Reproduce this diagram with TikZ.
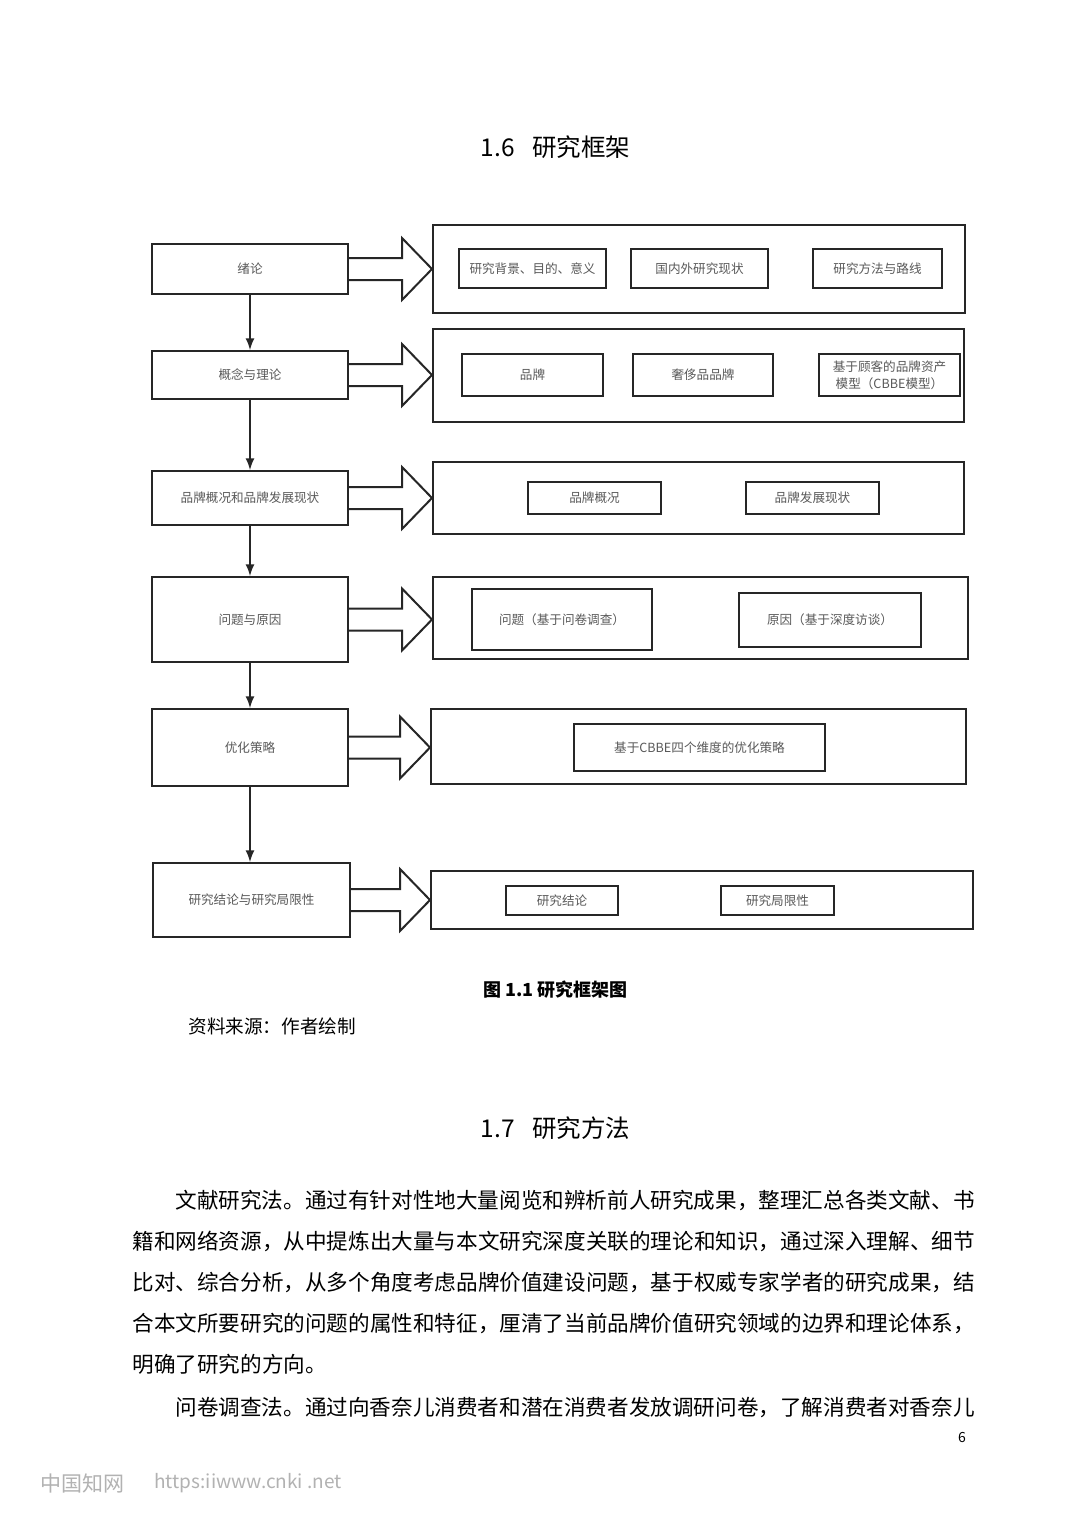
\documentclass[tikz,border=0pt]{standalone}
\usepackage{fontspec}
\setmainfont{Noto Sans CJK SC}
\usepackage{tikz}
\usetikzlibrary{calc,arrows}
\tikzstyle{chapter} = [rectangle, draw=black!85, line width=1pt, inner sep=0pt, text=black!65, font=\fontsize{6.3}{8.5}\selectfont, align=center]
\tikzstyle{group} = [rectangle, draw=black!85, line width=1pt, inner sep=0pt]
\tikzstyle{item} = [rectangle, draw=black!85, line width=1pt, inner sep=0pt, text=black!65, font=\fontsize{6.3}{8.5}\selectfont, align=center]
\tikzstyle{arrow} = [line width=1pt, draw=black!85, ->, >=latex]
\tikzstyle{fat} = [line width=1pt, draw=black!85, fill=white]
\tikzstyle{body} = [anchor=west, inner sep=0pt, font=\fontsize{10.8}{12}\selectfont]
\tikzstyle{heading} = [inner sep=0pt, font=\fontsize{12.25}{14}\selectfont]
\newcommand{\fatarrow}[2]{\draw[fat] let \p1=(#1.east), \p2=(#2.west) in (\x1,\y1+5.5pt) -- (\x2-15pt,\y1+5.5pt) -- (\x2-15pt,\y1+15.5pt) -- (\x2,\y1) -- (\x2-15pt,\y1-15.5pt) -- (\x2-15pt,\y1-5.5pt) -- (\x1,\y1-5.5pt);}

\begin{document}
\begin{tikzpicture}[x=0.5pt,y=-0.5pt]
\useasboundingbox[fill=white] (0,0) rectangle (1080,1527);

\node (title) [heading] at (555.5,147) {1.6\hspace{0.7em}研究框架};

% left column
\node (intro) [chapter, minimum width=98pt, minimum height=25pt] at (250,269) {绪论};
\node (theory) [chapter, minimum width=98pt, minimum height=24pt] at (250,375) {概念与理论};
\node (brand) [chapter, minimum width=98pt, minimum height=27pt] at (250,498) {品牌概况和品牌发展现状};
\node (issue) [chapter, minimum width=98pt, minimum height=42.5pt] at (250,619.5) {问题与原因};
\node (opt) [chapter, minimum width=98pt, minimum height=38.5pt] at (250,747.5) {优化策略};
\node (concl) [chapter, minimum width=98.5pt, minimum height=37pt] at (251.5,900) {研究结论与研究局限性};

% right column
\node (g1) [group, minimum width=266pt, minimum height=44pt] at (699,269) {};
\node (g2) [group, minimum width=265.5pt, minimum height=46.5pt] at (698.5,375.5) {};
\node (g3) [group, minimum width=265.5pt, minimum height=36pt] at (698.5,498) {};
\node (g4) [group, minimum width=267.5pt, minimum height=41pt] at (700.5,618) {};
\node (g5) [group, minimum width=267.5pt, minimum height=37.5pt] at (698.5,746.5) {};
\node (g6) [group, minimum width=271pt, minimum height=29pt] at (702,900) {};

\node (bg) [item, minimum width=73.5pt, minimum height=19.5pt] at (532.5,268.5) {研究背景、目的、意义};
\node (status) [item, minimum width=68.5pt, minimum height=19.5pt] at (699.5,268.5) {国内外研究现状};
\node (method) [item, minimum width=64.5pt, minimum height=19.5pt] at (877.5,268.5) {研究方法与路线};

\node (pinpai) [item, minimum width=70.5pt, minimum height=21pt] at (532.5,375) {品牌};
\node (lux) [item, minimum width=70pt, minimum height=21pt] at (703,375) {奢侈品品牌};
\node (cbbe) [item, minimum width=70.5pt, minimum height=21pt] at (889.5,375) {基于顾客的品牌资产\\模型（CBBE模型）};

\node (survey) [item, minimum width=66.5pt, minimum height=16pt] at (594.5,498) {品牌概况};
\node (dev) [item, minimum width=66.5pt, minimum height=16pt] at (812.5,498) {品牌发展现状};

\node (prob) [item, minimum width=90pt, minimum height=30.5pt] at (562,619.5) {问题（基于问卷调查）};
\node (cause) [item, minimum width=91pt, minimum height=27pt] at (830,620) {原因（基于深度访谈）};

\node (strat) [item, minimum width=125.5pt, minimum height=23.5pt] at (699.5,747.5) {基于CBBE四个维度的优化策略};

\node (res) [item, minimum width=56pt, minimum height=14.5pt] at (562,900.5) {研究结论};
\node (lim) [item, minimum width=56.5pt, minimum height=14.5pt] at (777.5,900.5) {研究局限性};

\draw [arrow] (intro) -- (theory);
\draw [arrow] (theory) -- (brand);
\draw [arrow] (brand) -- (issue);
\draw [arrow] (issue) -- (opt);
\draw [arrow] (opt.south) -- (opt.south |- concl.north);

\fatarrow{intro}{g1}
\fatarrow{theory}{g2}
\fatarrow{brand}{g3}
\fatarrow{issue}{g4}
\fatarrow{opt}{g5}
\fatarrow{concl}{g6}

\node (cap) [inner sep=0pt, font=\fontsize{9}{11}\selectfont\bfseries] at (555.5,990) {图 1.1 研究框架图};
\node (src) [anchor=west, inner sep=0pt, font=\fontsize{9.3}{11}\selectfont] at (188,1026) {资料来源：作者绘制};

\node (title2) [heading] at (555.5,1128) {1.7\hspace{0.7em}研究方法};

\node (l1) [body] at (175,1200) {文献研究法。通过有针对性地大量阅览和辨析前人研究成果，整理汇总各类文献、书};
\node (l2) [body] at (132,1241) {籍和网络资源，从中提炼出大量与本文研究深度关联的理论和知识，通过深入理解、细节};
\node (l3) [body] at (132,1282) {比对、综合分析，从多个角度考虑品牌价值建设问题，基于权威专家学者的研究成果，结};
\node (l4) [body] at (132,1323) {合本文所要研究的问题的属性和特征，厘清了当前品牌价值研究领域的边界和理论体系，};
\node (l5) [body] at (132,1364) {明确了研究的方向。};
\node (l6) [body] at (175,1408) {问卷调查法。通过向香奈儿消费者和潜在消费者发放调研问卷，了解消费者对香奈儿};

\node (page) [inner sep=0pt, font=\fontsize{7}{8}\selectfont] at (962,1437) {6};
\node (mark) [anchor=west, inner sep=0pt, text=black!30, font=\fontsize{10.5}{12}\selectfont] at (40,1483) {中国知网};
\node (url) [anchor=west, inner sep=0pt, text=black!30, font=\fontsize{9.5}{12}\selectfont] at (154,1483) {https:iiwww.cnki .net};
\end{tikzpicture}
\end{document}
